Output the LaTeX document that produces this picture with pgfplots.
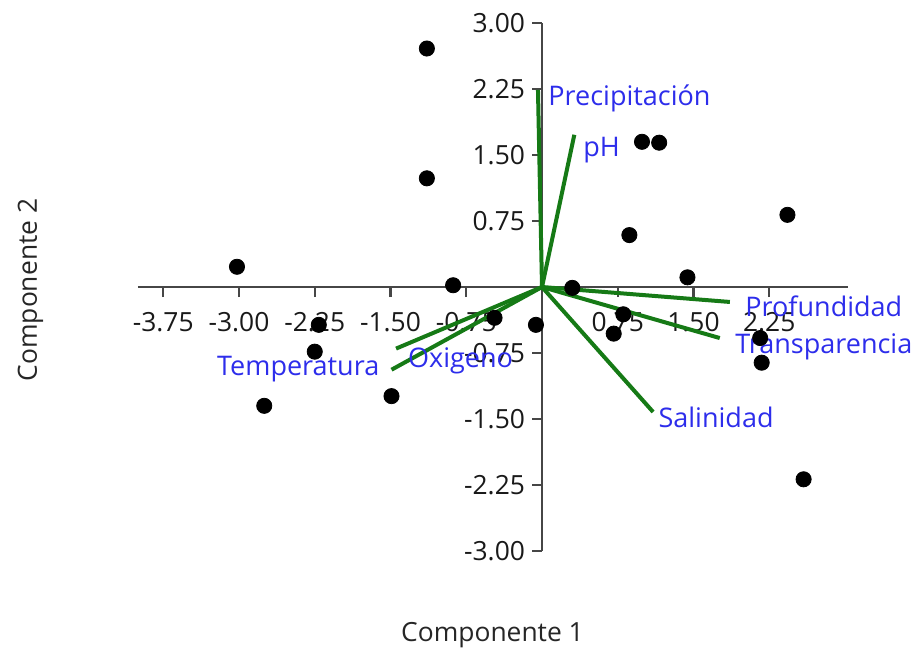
\documentclass[border=0pt]{standalone}
\usepackage{pgfplots}
\pgfplotsset{compat=1.18}
\usepackage{pgfplotstable}
\usepackage{fontspec}
\setmainfont{Open Sans}
\definecolor{lblue}{RGB}{45,45,235}
\definecolor{vgreen}{RGB}{22,122,22}
\definecolor{axgray}{RGB}{70,70,70}

\pgfplotstableread{
x y
-1.14 2.71
-1.14 1.235
-3.02 0.23
-0.88 0.02
-2.21 -0.43
-2.25 -0.735
-2.75 -1.35
-1.49 -1.24
-0.47 -0.35
-0.06 -0.43
0.30 -0.01
0.865 0.59
0.99 1.65
1.16 1.64
1.44 0.11
0.805 -0.31
0.71 -0.53
2.16 -0.58
2.175 -0.86
2.43 0.82
2.59 -2.185
}\scores

\begin{document}
\begin{tikzpicture}[font=\fontsize{13.2}{16}\selectfont]
\begin{axis}[
  x=50.5pt, y=44pt,
  xmin=-4.0, xmax=3.03, ymin=-3, ymax=3,
  axis lines=middle,
  axis line style={-, draw=axgray, line width=1.3pt},
  tick style={draw=axgray, line width=1.2pt},
  tick align=outside,
  major tick length=5pt,
  xtick={-3.75,-3,-2.25,-1.5,-0.75,0.75,1.5,2.25},
  ytick={-3,-2.25,-1.5,-0.75,0.75,1.5,2.25,3},
  /pgf/number format/fixed,
  /pgf/number format/fixed zerofill,
  /pgf/number format/precision=2,
  /pgf/number format/assume math mode=true,
  every tick label/.append style={text=black!90},
  xticklabel style={yshift=-4pt},
  clip=false,
]
\addplot[only marks, mark=*, mark size=3.8pt, black] table {\scores};

\addplot[vgreen, line width=2pt] coordinates {(0,0) (-0.04,2.24)};
\addplot[vgreen, line width=2pt] coordinates {(0,0) (0.32,1.73)};
\addplot[vgreen, line width=2pt] coordinates {(0,0) (1.86,-0.17)};
\addplot[vgreen, line width=2pt] coordinates {(0,0) (1.76,-0.58)};
\addplot[vgreen, line width=2pt] coordinates {(0,0) (1.10,-1.42)};
\addplot[vgreen, line width=2pt] coordinates {(0,0) (-1.49,-0.94)};
\addplot[vgreen, line width=2pt] coordinates {(0,0) (-1.445,-0.70)};

\begin{scope}[every node/.style={anchor=base west, inner sep=0pt, text=lblue, font=\fontsize{13.5}{16}\selectfont}]
\node at (axis cs:0.06,2.057) {Precipitación};
\node at (axis cs:0.405,1.48) {pH};
\node at (axis cs:2.01,-0.34) {Profundidad};
\node at (axis cs:1.91,-0.75) {Transparencia};
\node at (axis cs:1.15,-1.60) {Salinidad};
\node at (axis cs:-3.22,-1.0) {Temperatura};
\node at (axis cs:-1.33,-0.92) {Oxigeno};
\end{scope}

\node[anchor=base, inner sep=0pt, text=black!85] at (axis cs:-0.49,-4.03) {Componente 1};
\node[anchor=base, rotate=90, inner sep=0pt, text=black!85] at (axis cs:-5.0,-0.034) {Componente 2};

\coordinate (O) at (axis cs:0,0);
\end{axis}
\pgfresetboundingbox
\useasboundingbox ([shift={(-271pt,-181pt)}]O) rectangle ([shift={(188.5pt,143.5pt)}]O);
\end{tikzpicture}
\end{document}
